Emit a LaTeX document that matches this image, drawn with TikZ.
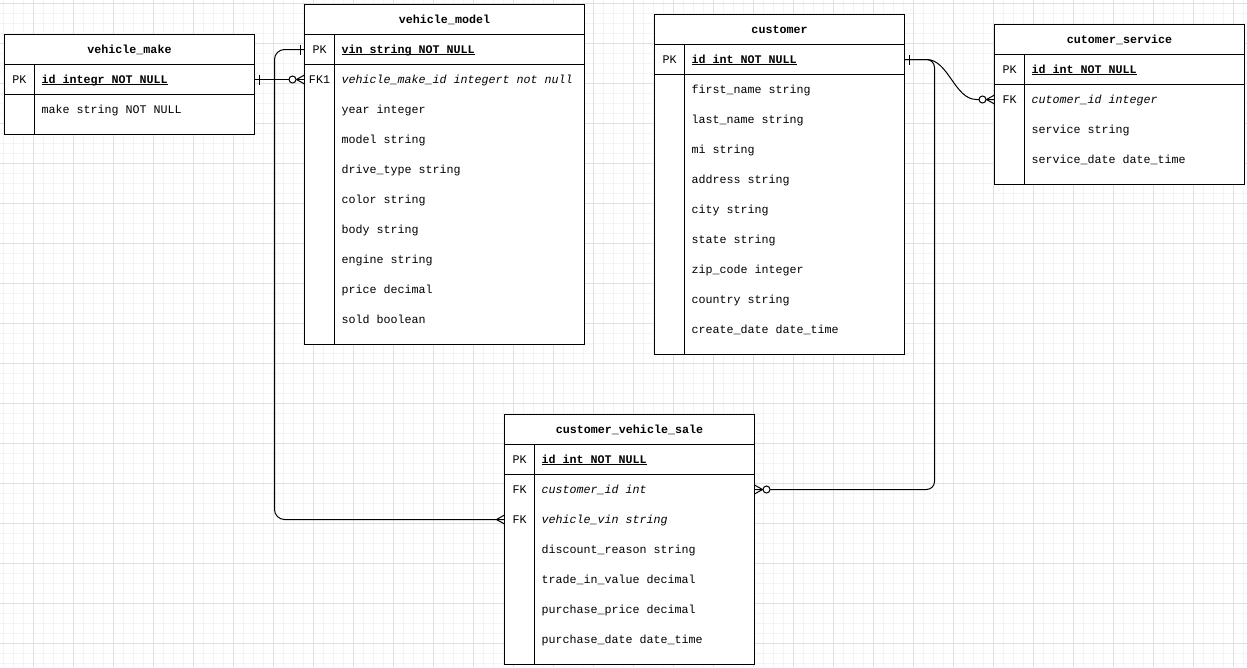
\documentclass[tikz,border=0pt]{standalone}
\usepackage{fontspec}
\setmainfont{Liberation Mono}
\usetikzlibrary{calc}
\definecolor{gridminor}{RGB}{244,244,244}
\definecolor{gridmajor}{RGB}{224,224,224}

% underlined primary-key text
\newcommand\pkul[1]{\setbox0\hbox{#1}\rlap{\vrule height -1pt depth 2pt width \wd0}\box0}

% an entity table: name, left, top, width, number of rows, title
\newcommand\ertable[6]{%
  \node[tbl, minimum width=#4, minimum height={30*#5+40}] (#1) at (#2,#3) {};
  \node[hdr] (#1-h) at ($(#1.north)+(0,15)$) {#6};
  \draw[rel] ($(#1.north west)+(0,30)$) -- ($(#1.north east)+(0,30)$);
  \draw[rel] ($(#1.north west)+(0,60)$) -- ($(#1.north east)+(0,60)$);
  \draw[rel] ($(#1.north west)+(30,30)$) -- ($(#1.south west)+(30,0)$);
}
% a row with a key label: table, index, key, style, text
\newcommand\erkrow[5]{%
  \node[txt] (#1-k#2) at ($(#1.north west)+(15,45+30*#2)$) {#3};
  \node[#4] (#1-f#2) at ($(#1.north west)+(37,45+30*#2)$) {#5};
}
% a plain row: table, index, text
\newcommand\errow[3]{%
  \node[fld] (#1-f#2) at ($(#1.north west)+(37,45+30*#2)$) {#3};
}

\tikzset{
  tbl/.style={draw=black, line width=1pt, fill=white, inner sep=0pt, outer sep=0pt, anchor=north west},
  txt/.style={inner sep=0pt, outer sep=0pt, text height=7pt, text depth=0pt,
    font=\fontsize{11.67}{14}\selectfont},
  hdr/.style={txt, font=\fontsize{11.67}{14}\selectfont\bfseries},
  fld/.style={txt, anchor=west},
  fkfld/.style={fld, font=\fontsize{11.67}{14}\selectfont\itshape},
  pkfld/.style={fld, font=\fontsize{11.67}{14}\selectfont\bfseries},
  rel/.style={draw=black, line width=1pt},
  one/.pic={\draw[rel] (-4.5,-5) -- (-4.5,5);},
  many/.pic={\draw[rel] (0,-4.5) -- (-8,0) -- (0,4.5);},
  zeromany/.pic={\draw[rel] (0,-4.5) -- (-8,0) -- (0,4.5);
                 \draw[rel, fill=white] (-12,0) circle (3.5);},
}

\begin{document}
\begin{tikzpicture}[x=1pt, y=-1pt]
\useasboundingbox (0,0) rectangle (1247,667);
\fill[white] (0,0) rectangle (1247,667);

% background grid
\foreach \i in {0,...,124}
  \draw[gridminor, line width=1pt] ({3.5+10*\i},0) -- ({3.5+10*\i},667);
\foreach \i in {0,...,66}
  \draw[gridminor, line width=1pt] (0,{3.5+10*\i}) -- (1247,{3.5+10*\i});
\foreach \i in {0,...,30}
  \draw[gridmajor, line width=1pt] ({33.5+40*\i},0) -- ({33.5+40*\i},667);
\foreach \i in {0,...,16}
  \draw[gridmajor, line width=1pt] (0,{3.5+40*\i}) -- (1247,{3.5+40*\i});

% vehicle_make
\ertable{vmk}{4.5}{34.5}{250}{2}{vehicle\_make}
\erkrow{vmk}{0}{PK}{pkfld}{\pkul{id integr NOT NULL}}
\errow{vmk}{1}{make string NOT NULL}

% vehicle_model
\ertable{vm}{304.5}{4.5}{280}{10}{vehicle\_model}
\erkrow{vm}{0}{PK}{pkfld}{\pkul{vin string NOT NULL}}
\erkrow{vm}{1}{FK1}{fkfld}{vehicle\_make\_id integert not null}
\errow{vm}{2}{year integer}
\errow{vm}{3}{model string}
\errow{vm}{4}{drive\_type string}
\errow{vm}{5}{color string}
\errow{vm}{6}{body string}
\errow{vm}{7}{engine string}
\errow{vm}{8}{price decimal}
\errow{vm}{9}{sold boolean}

% customer
\ertable{cu}{654.5}{14.5}{250}{10}{customer}
\erkrow{cu}{0}{PK}{pkfld}{\pkul{id int NOT NULL}}
\errow{cu}{1}{first\_name string}
\errow{cu}{2}{last\_name string}
\errow{cu}{3}{mi string}
\errow{cu}{4}{address string}
\errow{cu}{5}{city string}
\errow{cu}{6}{state string}
\errow{cu}{7}{zip\_code integer}
\errow{cu}{8}{country string}
\errow{cu}{9}{create\_date date\_time}

% cutomer_service
\ertable{cs}{994.5}{24.5}{250}{4}{cutomer\_service}
\erkrow{cs}{0}{PK}{pkfld}{\pkul{id int NOT NULL}}
\erkrow{cs}{1}{FK}{fkfld}{cutomer\_id integer}
\errow{cs}{2}{service string}
\errow{cs}{3}{service\_date date\_time}

% customer_vehicle_sale
\ertable{cvs}{504.5}{414.5}{250}{7}{customer\_vehicle\_sale}
\erkrow{cvs}{0}{PK}{pkfld}{\pkul{id int NOT NULL}}
\erkrow{cvs}{1}{FK}{fkfld}{customer\_id int}
\erkrow{cvs}{2}{FK}{fkfld}{vehicle\_vin string}
\errow{cvs}{3}{discount\_reason string}
\errow{cvs}{4}{trade\_in\_value decimal}
\errow{cvs}{5}{purchase\_price decimal}
\errow{cvs}{6}{purchase\_date date\_time}

% relationships
\draw[rel] (vmk.east |- vmk-f0) -- (vm.west |- vm-f1);
\draw[rel, rounded corners=10pt] (vm.west |- vm-f0) -- ++(-30,0) |- (cvs.west |- cvs-f2);
\draw[rel, rounded corners=8pt] (cu.east |- cu-f0) -- ++(30,0) |- (cvs.east |- cvs-f1);
\draw[rel] (cu.east |- cu-f0) -- ++(22,0)
  .. controls +(22,0) and ($(cs.west |- cs-f1)+(-40,0)$) .. ($(cs.west |- cs-f1)+(-18,0)$)
  -- (cs.west |- cs-f1);

% cardinality marks
\pic[rotate=180] at (vmk.east |- vmk-f0) {one};
\pic at (vm.west |- vm-f1) {zeromany};
\pic at (vm.west |- vm-f0) {one};
\pic at (cvs.west |- cvs-f2) {many};
\pic[rotate=180] at (cu.east |- cu-f0) {one};
\pic[rotate=180] at (cvs.east |- cvs-f1) {zeromany};
\pic at (cs.west |- cs-f1) {zeromany};
\end{tikzpicture}
\end{document}
